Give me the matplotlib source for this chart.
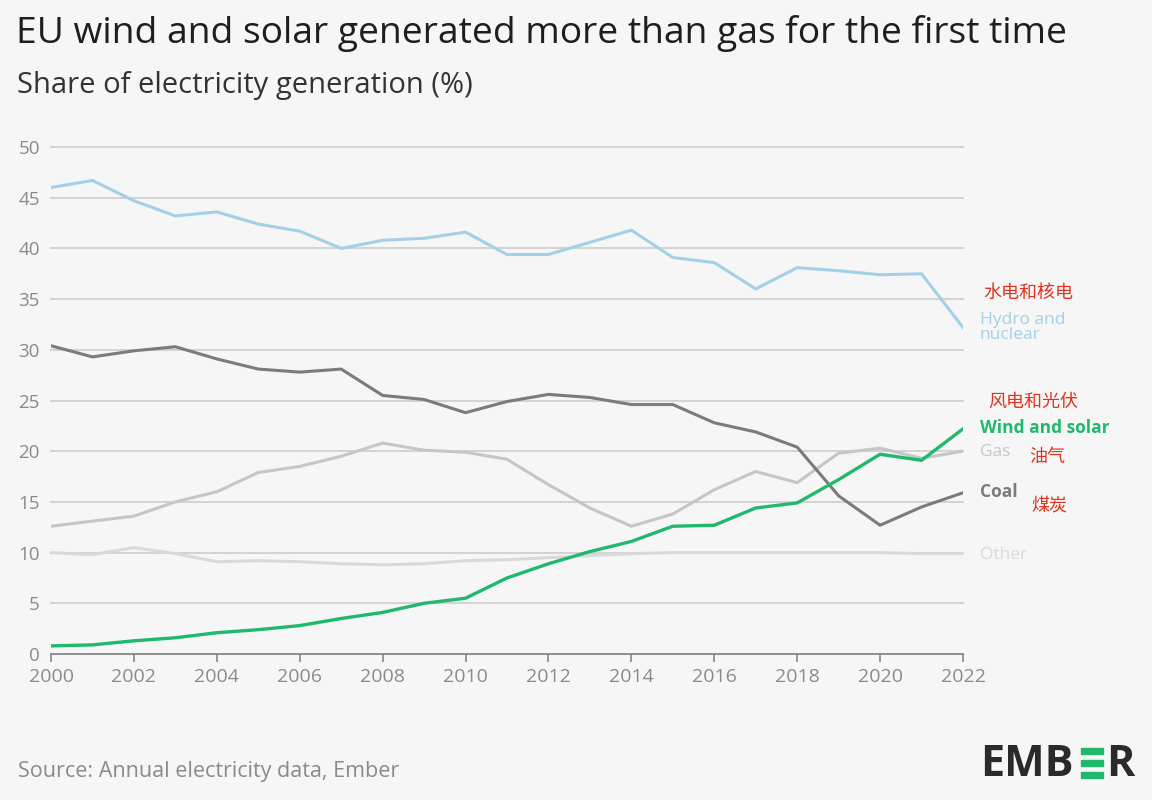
import matplotlib.pyplot as plt
from matplotlib.patches import Rectangle

years = list(range(2000, 2023))
hydro_nuclear = [46.0, 46.7, 44.7, 43.2, 43.6, 42.4, 41.7, 40.0, 40.8, 41.0, 41.6, 39.4,
                 39.4, 40.6, 41.8, 39.1, 38.6, 36.0, 38.1, 37.8, 37.4, 37.5, 32.2]
coal = [30.4, 29.3, 29.9, 30.3, 29.1, 28.1, 27.8, 28.1, 25.5, 25.1, 23.8, 24.9,
        25.6, 25.3, 24.6, 24.6, 22.8, 21.9, 20.4, 15.6, 12.7, 14.5, 15.9]
gas = [12.6, 13.1, 13.6, 15.0, 16.0, 17.9, 18.5, 19.5, 20.8, 20.1, 19.9, 19.2,
       16.7, 14.4, 12.6, 13.8, 16.2, 18.0, 16.9, 19.8, 20.3, 19.3, 20.0]
wind_solar = [0.8, 0.9, 1.3, 1.6, 2.1, 2.4, 2.8, 3.5, 4.1, 5.0, 5.5, 7.5,
              8.9, 10.1, 11.1, 12.6, 12.7, 14.4, 14.9, 17.2, 19.7, 19.1, 22.2]
other = [10.0, 9.8, 10.5, 9.9, 9.1, 9.2, 9.1, 8.9, 8.8, 8.9, 9.2, 9.3,
         9.5, 9.7, 9.9, 10.0, 10.0, 10.0, 10.0, 10.0, 10.0, 9.9, 9.9]

y_ticks = [0, 5, 10, 15, 20, 25, 30, 35, 40, 45, 50]
x_ticks = list(range(2000, 2023, 2))

bg = '#f6f6f6'
c_hydro = '#a3d0e8'
c_coal = '#7b7b7b'
c_gas = '#c6c6c6'
c_wind = '#20b86c'
c_other = '#d9d9d9'
c_red = '#e0321e'
c_tick = '#8a8a8a'

plt.rcParams['font.family'] = ['Open Sans', 'Noto Sans CJK SC', 'DejaVu Sans']

fig = plt.figure(figsize=(11.52, 8), dpi=100, facecolor=bg)
W, H = 1152, 800
ax = fig.add_axes([51 / W, 1 - 654 / H, (963 - 51) / W, (654 - 147) / H])
ax.set_facecolor(bg)

for yv in y_ticks[1:]:
    ax.axhline(yv, color='#d0d0d0', lw=1.3, zorder=1, clip_on=False)

ax.plot(years, other, color=c_other, lw=2.2, zorder=2)
ax.plot(years, gas, color=c_gas, lw=2.2, zorder=3)
ax.plot(years, coal, color=c_coal, lw=2.2, zorder=4)
ax.plot(years, hydro_nuclear, color=c_hydro, lw=2.2, zorder=4)
ax.plot(years, wind_solar, color=c_wind, lw=2.4, zorder=5)

ax.set_xlim(2000, 2022)
ax.set_ylim(0, 50)
for s in ['top', 'right', 'left']:
    ax.spines[s].set_visible(False)
ax.spines['bottom'].set_color('#888888')
ax.spines['bottom'].set_linewidth(1.3)
ax.set_yticks(y_ticks)
ax.set_xticks(x_ticks)
ax.tick_params(axis='y', length=0, pad=8, labelsize=13.5, labelcolor=c_tick)
ax.tick_params(axis='x', length=6, width=1.2, color='#888888', pad=4,
               labelsize=14, labelcolor=c_tick)

# series labels at right end
lx = 2022.4
ax.text(lx, 32.2, 'Hydro and\nnuclear', color=c_hydro, fontsize=12.5, va='center',
        linespacing=0.95, clip_on=False)
ax.text(lx, 22.3, 'Wind and solar', color=c_wind, fontsize=12.5, fontweight='bold',
        va='center', clip_on=False)
ax.text(lx, 19.9, 'Gas', color=c_gas, fontsize=12.5, va='center', clip_on=False)
ax.text(lx, 16.0, 'Coal', color=c_coal, fontsize=12.5, fontweight='bold', va='center', clip_on=False)
ax.text(lx, 9.8, 'Other', color=c_other, fontsize=12.5, va='center', clip_on=False)

# chinese annotations
ax.text(2022.5, 35.6, '水电和核电', color=c_red, fontsize=13, va='center', clip_on=False)
ax.text(2022.6, 24.9, '风电和光伏', color=c_red, fontsize=13, va='center', clip_on=False)
ax.text(2023.6, 19.4, '油气', color=c_red, fontsize=13, va='center', clip_on=False)
ax.text(2023.65, 14.6, '煤炭', color=c_red, fontsize=13, va='center', clip_on=False)

fig.text(16 / W, 1 - 33 / H, 'EU wind and solar generated more than gas for the first time',
         fontsize=26.8, color='#1e1e1e', va='center', ha='left')
fig.text(17 / W, 1 - 85 / H, 'Share of electricity generation (%)',
         fontsize=21, color='#333333', va='center', ha='left')
fig.text(18 / W, 1 - 772 / H, 'Source: Annual electricity data, Ember',
         fontsize=15.5, color='#8a8a8a', va='center', ha='left')

# EMBER logo
fig.text(980 / W, 1 - 764 / H, 'EMB', fontsize=31, fontweight='bold', color='#2a2a2a',
         va='center', ha='left')
for i, yy in enumerate([749, 761, 773]):
    fig.patches.append(Rectangle((1081 / W, 1 - (yy + 5) / H), 22 / W, 6 / H,
                                 transform=fig.transFigure, color=c_wind))
fig.text(1106 / W, 1 - 764 / H, 'R', fontsize=31, fontweight='bold', color='#2a2a2a',
         va='center', ha='left')

fig.savefig('out.png', dpi=100, facecolor=bg)
